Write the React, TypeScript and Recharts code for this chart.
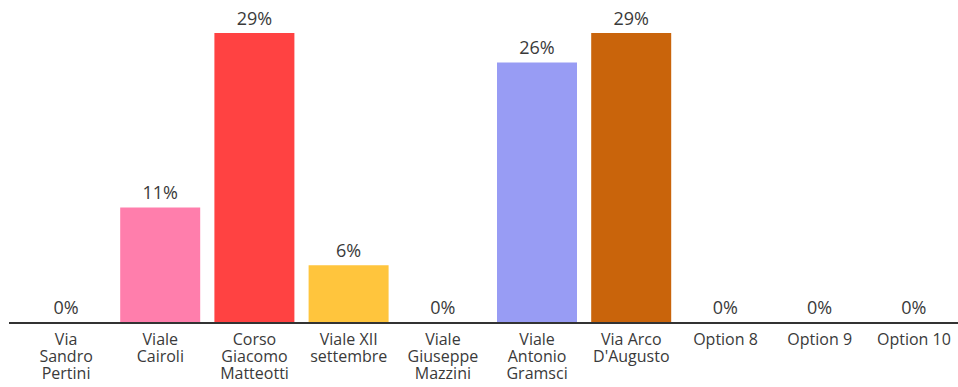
import React from 'react'
import { BarChart, Bar, XAxis, YAxis, LabelList, Cell } from 'recharts'

const categories = [
  ['Via', 'Sandro', 'Pertini'],
  ['Viale', 'Cairoli'],
  ['Corso', 'Giacomo', 'Matteotti'],
  ['Viale XII', 'settembre'],
  ['Viale', 'Giuseppe', 'Mazzini'],
  ['Viale', 'Antonio', 'Gramsci'],
  ['Via Arco', "D'Augusto"],
  ['Option 8'],
  ['Option 9'],
  ['Option 10'],
]
const percents = [0, 11.4, 28.6, 5.7, 0, 25.7, 28.6, 0, 0, 0]
const colors = ['#ffffff', '#ff7eac', '#ff4242', '#ffc53d', '#ffffff', '#989cf4', '#c9640b', '#ffffff', '#ffffff', '#ffffff']

const data = categories.map((lines, i) => ({ name: lines.join(' '), lines, value: percents[i] }))

const FONT = '"Open Sans", "Noto Sans", sans-serif'
const TEXT = '#3a3a3a'

const CategoryTick = (props: any) => {
  const { x, y, payload } = props
  const lines = categories[payload.index] || [payload.value]
  return (
    <g>
      {lines.map((l: string, i: number) => (
        <text key={i} x={x} y={y + 14 + i * 17} textAnchor="middle" fill={TEXT} fontSize={16} fontFamily={FONT}>
          {l}
        </text>
      ))}
    </g>
  )
}

const ValueLabel = (props: any) => {
  const { x, y, width, value } = props
  return (
    <text x={Number(x) + Number(width) / 2} y={Number(y) - 8} textAnchor="middle" fill={TEXT} fontSize={18} fontFamily={FONT}>
      {`${Math.round(Number(value))}%`}
    </text>
  )
}

export default function App() {
  return (
    <div style={{ position: 'absolute', left: 0, top: 0, width: 958, height: 387, background: '#fff', overflow: 'hidden' }}>
      <BarChart width={958} height={387} data={data} margin={{ top: 33, right: -3, left: 9, bottom: 0 }}>
        <XAxis
          dataKey="name"
          height={64}
          padding={{ left: 10, right: 0 }}
          axisLine={{ stroke: '#333', strokeWidth: 2 }}
          tickLine={false}
          tick={<CategoryTick />}
          interval={0}
        />
        <YAxis hide domain={[0, 28.6]} />
        <Bar dataKey="value" barSize={80} minPointSize={1} isAnimationActive={false}>
          {data.map((d, i) => (
            <Cell key={i} fill={colors[i]} />
          ))}
          <LabelList dataKey="value" content={<ValueLabel />} />
        </Bar>
      </BarChart>
    </div>
  )
}
